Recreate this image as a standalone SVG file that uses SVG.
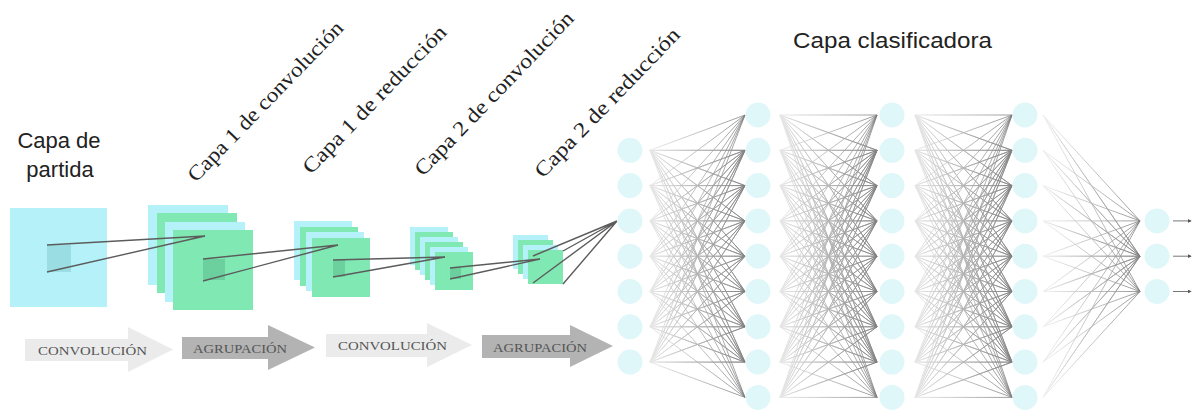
<svg xmlns="http://www.w3.org/2000/svg" width="1194" height="410" viewBox="0 0 1194 410">
  <defs>
    <style>
      .cy { fill: #b4f1f9; }
      .gr { fill: #80e9b3; }
      .cyin { fill: #9adde3; }
      .grin { fill: #6ccf9e; }
      .neuron { fill: #e0f7f9; }
      .proj { stroke: #5c5c5c; stroke-width: 1.4; fill: none; }
      .fc { fill: none; stroke-width: 0.8; stroke-linejoin: round; }
      .out { stroke: #777; stroke-width: 1; fill: none; }
      .title { font-family: "Liberation Sans", Arial, sans-serif; font-size: 22px; fill: #222; }
      .layer { font-family: "Liberation Serif", "Times New Roman", serif; font-size: 21px; fill: #222; }
      .step { font-family: "Liberation Serif", "Times New Roman", serif; font-size: 12px; fill: #555; }
      .light { fill: #ebebeb; }
      .dark { fill: #b3b3b3; }
    </style>
    <linearGradient id="gA" gradientUnits="userSpaceOnUse" x1="650" y1="0" x2="745" y2="0">
      <stop offset="0" stop-color="#e6e6e6"/><stop offset="1" stop-color="#808080"/>
    </linearGradient>
    <linearGradient id="gB" gradientUnits="userSpaceOnUse" x1="780" y1="0" x2="877" y2="0">
      <stop offset="0" stop-color="#e6e6e6"/><stop offset="1" stop-color="#808080"/>
    </linearGradient>
    <linearGradient id="gC" gradientUnits="userSpaceOnUse" x1="915" y1="0" x2="1012" y2="0">
      <stop offset="0" stop-color="#e6e6e6"/><stop offset="1" stop-color="#808080"/>
    </linearGradient>
    <linearGradient id="gD" gradientUnits="userSpaceOnUse" x1="1043" y1="0" x2="1140" y2="0">
      <stop offset="0" stop-color="#eeeeee"/><stop offset="1" stop-color="#808080"/>
    </linearGradient>
    <marker id="tip" viewBox="0 0 6 6" refX="5" refY="3" markerWidth="4" markerHeight="4" orient="auto">
      <path d="M0 0L6 3L0 6z" fill="#555"/>
    </marker>
  </defs>

  <rect width="1194" height="410" fill="#ffffff"/>

  <!-- headings -->
  <g id="label-input">
    <text class="title" x="59" y="148" text-anchor="middle">Capa de</text>
    <text class="title" x="60" y="177" text-anchor="middle">partida</text>
  </g>
  <g id="label-conv1"><text class="layer" transform="translate(196 183) rotate(-46)" textLength="214" lengthAdjust="spacingAndGlyphs">Capa 1 de convolución</text></g>
  <g id="label-pool1"><text class="layer" transform="translate(311 175) rotate(-46)" textLength="197" lengthAdjust="spacingAndGlyphs">Capa 1 de reducción</text></g>
  <g id="label-conv2"><text class="layer" transform="translate(423 177) rotate(-46)" textLength="219" lengthAdjust="spacingAndGlyphs">Capa 2 de convolución</text></g>
  <g id="label-pool2"><text class="layer" transform="translate(543 179) rotate(-46)" textLength="199" lengthAdjust="spacingAndGlyphs">Capa 2 de reducción</text></g>
  <g id="label-classifier"><text class="title" x="793" y="48" textLength="199" lengthAdjust="spacingAndGlyphs">Capa clasificadora</text></g>

  <!-- feature maps -->
  <g id="input-map">
    <rect class="cy" x="10" y="208" width="97" height="99"/>
    <rect class="cyin" x="47" y="245" width="24" height="27"/>
  </g>
  <g id="conv1-maps">
    <rect class="cy" x="148" y="205" width="80" height="80"/>
    <rect class="gr" x="157" y="213" width="80" height="80"/>
    <rect class="cy" x="165" y="222" width="80" height="80"/>
    <rect class="gr" x="173" y="230" width="80" height="80"/>
    <rect class="grin" x="203" y="259" width="22" height="21"/>
  </g>
  <g id="pool1-maps">
    <rect class="cy" x="294" y="221" width="58" height="59"/>
    <rect class="gr" x="300" y="227" width="58" height="59"/>
    <rect class="cy" x="306" y="232" width="58" height="59"/>
    <rect class="gr" x="312" y="238" width="58" height="59"/>
    <rect class="grin" x="333" y="260" width="12" height="17"/>
  </g>
  <g id="conv2-maps">
    <rect class="cy" x="410" y="227" width="38" height="38"/>
    <rect class="gr" x="415" y="232" width="38" height="38"/>
    <rect class="cy" x="420" y="237" width="38" height="38"/>
    <rect class="gr" x="425" y="242" width="38" height="38"/>
    <rect class="cy" x="430" y="247" width="38" height="38"/>
    <rect class="gr" x="435" y="252" width="38" height="38"/>
    <rect class="grin" x="450" y="267" width="11" height="12"/>
  </g>
  <g id="pool2-maps">
    <rect class="cy" x="513" y="235" width="35" height="34"/>
    <rect class="gr" x="518" y="240" width="35" height="34"/>
    <rect class="cy" x="523" y="245" width="35" height="34"/>
    <rect class="gr" x="528" y="250" width="35" height="34"/>
  </g>

  <!-- processing steps -->
  <g id="step-conv1">
    <polygon class="light" points="25,339 128,339 128,327 173,349.5 128,372 128,361 25,361"/>
    <text class="step" x="92.5" y="355" text-anchor="middle" textLength="109" lengthAdjust="spacingAndGlyphs">CONVOLUCIÓN</text>
  </g>
  <g id="step-pool1">
    <polygon class="dark" points="182,337 268,337 268,325 315,347.5 268,370 268,359 182,359"/>
    <text class="step" x="240" y="353" text-anchor="middle" textLength="94" lengthAdjust="spacingAndGlyphs">AGRUPACIÓN</text>
  </g>
  <g id="step-conv2">
    <polygon class="light" points="326,334 427,334 427,323 472,345 427,367 427,357 326,357"/>
    <text class="step" x="392.5" y="350" text-anchor="middle" textLength="109" lengthAdjust="spacingAndGlyphs">CONVOLUCIÓN</text>
  </g>
  <g id="step-pool2">
    <polygon class="dark" points="482,335 570,335 570,325 613,346 570,367 570,358 482,358"/>
    <text class="step" x="540" y="352" text-anchor="middle" textLength="94" lengthAdjust="spacingAndGlyphs">AGRUPACIÓN</text>
  </g>

  <!-- connectors -->
  <g id="connectors">
    <!-- receptive fields between feature maps -->
    <path class="proj" d="M47 245L205 236M47 272L205 236"/>
    <path class="proj" d="M203 259L338 245M203 281L338 245"/>
    <path class="proj" d="M333 260L445 257M333 277L445 257"/>
    <path class="proj" d="M450 268L540 259M450 279L540 259"/>
    <path class="proj" stroke-width="1" d="M533 256L617 221M533 283L617 221M563 251L617 221M563 284L617 221"/>

    <!-- dense layer 1 -->
    <g class="fc" stroke="url(#gA)">
      <path d="M745 115L650 150.3 745 150.3 650 150.3 745 185.6 650 150.3 745 220.9 650 150.3 745 256.2 650 150.3 745 291.5 650 150.3 745 326.8 650 150.3 745 362.1 650 150.3 745 397.4"/>
      <path d="M745 115L650 185.6 745 150.3 650 185.6 745 185.6 650 185.6 745 220.9 650 185.6 745 256.2 650 185.6 745 291.5 650 185.6 745 326.8 650 185.6 745 362.1 650 185.6 745 397.4"/>
      <path d="M745 115L650 220.9 745 150.3 650 220.9 745 185.6 650 220.9 745 220.9 650 220.9 745 256.2 650 220.9 745 291.5 650 220.9 745 326.8 650 220.9 745 362.1 650 220.9 745 397.4"/>
      <path d="M745 115L650 256.2 745 150.3 650 256.2 745 185.6 650 256.2 745 220.9 650 256.2 745 256.2 650 256.2 745 291.5 650 256.2 745 326.8 650 256.2 745 362.1 650 256.2 745 397.4"/>
      <path d="M745 115L650 291.5 745 150.3 650 291.5 745 185.6 650 291.5 745 220.9 650 291.5 745 256.2 650 291.5 745 291.5 650 291.5 745 326.8 650 291.5 745 362.1 650 291.5 745 397.4"/>
      <path d="M745 115L650 326.8 745 150.3 650 326.8 745 185.6 650 326.8 745 220.9 650 326.8 745 256.2 650 326.8 745 291.5 650 326.8 745 326.8 650 326.8 745 362.1 650 326.8 745 397.4"/>
      <path d="M745 115L650 362.1 745 150.3 650 362.1 745 185.6 650 362.1 745 220.9 650 362.1 745 256.2 650 362.1 745 291.5 650 362.1 745 326.8 650 362.1 745 362.1 650 362.1 745 397.4"/>
    </g>
    <!-- dense layer 2 -->
    <g class="fc" stroke="url(#gB)">
      <path d="M877 115L780 115 877 150.3 780 115 877 185.6 780 115 877 220.9 780 115 877 256.2 780 115 877 291.5 780 115 877 326.8 780 115 877 362.1 780 115 877 397.4"/>
      <path d="M877 115L780 150.3 877 150.3 780 150.3 877 185.6 780 150.3 877 220.9 780 150.3 877 256.2 780 150.3 877 291.5 780 150.3 877 326.8 780 150.3 877 362.1 780 150.3 877 397.4"/>
      <path d="M877 115L780 185.6 877 150.3 780 185.6 877 185.6 780 185.6 877 220.9 780 185.6 877 256.2 780 185.6 877 291.5 780 185.6 877 326.8 780 185.6 877 362.1 780 185.6 877 397.4"/>
      <path d="M877 115L780 220.9 877 150.3 780 220.9 877 185.6 780 220.9 877 220.9 780 220.9 877 256.2 780 220.9 877 291.5 780 220.9 877 326.8 780 220.9 877 362.1 780 220.9 877 397.4"/>
      <path d="M877 115L780 256.2 877 150.3 780 256.2 877 185.6 780 256.2 877 220.9 780 256.2 877 256.2 780 256.2 877 291.5 780 256.2 877 326.8 780 256.2 877 362.1 780 256.2 877 397.4"/>
      <path d="M877 115L780 291.5 877 150.3 780 291.5 877 185.6 780 291.5 877 220.9 780 291.5 877 256.2 780 291.5 877 291.5 780 291.5 877 326.8 780 291.5 877 362.1 780 291.5 877 397.4"/>
      <path d="M877 115L780 326.8 877 150.3 780 326.8 877 185.6 780 326.8 877 220.9 780 326.8 877 256.2 780 326.8 877 291.5 780 326.8 877 326.8 780 326.8 877 362.1 780 326.8 877 397.4"/>
      <path d="M877 115L780 362.1 877 150.3 780 362.1 877 185.6 780 362.1 877 220.9 780 362.1 877 256.2 780 362.1 877 291.5 780 362.1 877 326.8 780 362.1 877 362.1 780 362.1 877 397.4"/>
      <path d="M877 115L780 397.4 877 150.3 780 397.4 877 185.6 780 397.4 877 220.9 780 397.4 877 256.2 780 397.4 877 291.5 780 397.4 877 326.8 780 397.4 877 362.1 780 397.4 877 397.4"/>
    </g>
    <!-- dense layer 3 -->
    <g class="fc" stroke="url(#gC)">
      <path d="M1012 115L915 115 1012 150.3 915 115 1012 185.6 915 115 1012 220.9 915 115 1012 256.2 915 115 1012 291.5 915 115 1012 326.8 915 115 1012 362.1 915 115 1012 397.4"/>
      <path d="M1012 115L915 150.3 1012 150.3 915 150.3 1012 185.6 915 150.3 1012 220.9 915 150.3 1012 256.2 915 150.3 1012 291.5 915 150.3 1012 326.8 915 150.3 1012 362.1 915 150.3 1012 397.4"/>
      <path d="M1012 115L915 185.6 1012 150.3 915 185.6 1012 185.6 915 185.6 1012 220.9 915 185.6 1012 256.2 915 185.6 1012 291.5 915 185.6 1012 326.8 915 185.6 1012 362.1 915 185.6 1012 397.4"/>
      <path d="M1012 115L915 220.9 1012 150.3 915 220.9 1012 185.6 915 220.9 1012 220.9 915 220.9 1012 256.2 915 220.9 1012 291.5 915 220.9 1012 326.8 915 220.9 1012 362.1 915 220.9 1012 397.4"/>
      <path d="M1012 115L915 256.2 1012 150.3 915 256.2 1012 185.6 915 256.2 1012 220.9 915 256.2 1012 256.2 915 256.2 1012 291.5 915 256.2 1012 326.8 915 256.2 1012 362.1 915 256.2 1012 397.4"/>
      <path d="M1012 115L915 291.5 1012 150.3 915 291.5 1012 185.6 915 291.5 1012 220.9 915 291.5 1012 256.2 915 291.5 1012 291.5 915 291.5 1012 326.8 915 291.5 1012 362.1 915 291.5 1012 397.4"/>
      <path d="M1012 115L915 326.8 1012 150.3 915 326.8 1012 185.6 915 326.8 1012 220.9 915 326.8 1012 256.2 915 326.8 1012 291.5 915 326.8 1012 326.8 915 326.8 1012 362.1 915 326.8 1012 397.4"/>
      <path d="M1012 115L915 362.1 1012 150.3 915 362.1 1012 185.6 915 362.1 1012 220.9 915 362.1 1012 256.2 915 362.1 1012 291.5 915 362.1 1012 326.8 915 362.1 1012 362.1 915 362.1 1012 397.4"/>
      <path d="M1012 115L915 397.4 1012 150.3 915 397.4 1012 185.6 915 397.4 1012 220.9 915 397.4 1012 256.2 915 397.4 1012 291.5 915 397.4 1012 326.8 915 397.4 1012 362.1 915 397.4 1012 397.4"/>
    </g>
    <!-- output layer -->
    <g class="fc" stroke="url(#gD)">
      <path d="M1140 220.9L1043 115 1140 256.2 1043 115 1140 291.5"/>
      <path d="M1140 220.9L1043 150.3 1140 256.2 1043 150.3 1140 291.5"/>
      <path d="M1140 220.9L1043 185.6 1140 256.2 1043 185.6 1140 291.5"/>
      <path d="M1140 220.9L1043 220.9 1140 256.2 1043 220.9 1140 291.5"/>
      <path d="M1140 220.9L1043 256.2 1140 256.2 1043 256.2 1140 291.5"/>
      <path d="M1140 220.9L1043 291.5 1140 256.2 1043 291.5 1140 291.5"/>
      <path d="M1140 220.9L1043 326.8 1140 256.2 1043 326.8 1140 291.5"/>
      <path d="M1140 220.9L1043 362.1 1140 256.2 1043 362.1 1140 291.5"/>
      <path d="M1140 220.9L1043 397.4 1140 256.2 1043 397.4 1140 291.5"/>
    </g>
    <!-- outputs -->
    <path class="out" marker-end="url(#tip)" d="M1173 220.9H1191"/>
    <path class="out" marker-end="url(#tip)" d="M1173 256.2H1191"/>
    <path class="out" marker-end="url(#tip)" d="M1173 291.5H1191"/>
  </g>

  <!-- neurons -->
  <g id="fc-in">
    <g id="n0-1"><circle class="neuron" cx="630" cy="150.3" r="12.5"/></g>
    <g id="n0-2"><circle class="neuron" cx="630" cy="185.6" r="12.5"/></g>
    <g id="n0-3"><circle class="neuron" cx="630" cy="220.9" r="12.5"/></g>
    <g id="n0-4"><circle class="neuron" cx="630" cy="256.2" r="12.5"/></g>
    <g id="n0-5"><circle class="neuron" cx="630" cy="291.5" r="12.5"/></g>
    <g id="n0-6"><circle class="neuron" cx="630" cy="326.8" r="12.5"/></g>
    <g id="n0-7"><circle class="neuron" cx="630" cy="362.1" r="12.5"/></g>
  </g>
  <g id="fc-h1">
    <g id="n1-0"><circle class="neuron" cx="758" cy="115" r="12.5"/></g>
    <g id="n1-1"><circle class="neuron" cx="758" cy="150.3" r="12.5"/></g>
    <g id="n1-2"><circle class="neuron" cx="758" cy="185.6" r="12.5"/></g>
    <g id="n1-3"><circle class="neuron" cx="758" cy="220.9" r="12.5"/></g>
    <g id="n1-4"><circle class="neuron" cx="758" cy="256.2" r="12.5"/></g>
    <g id="n1-5"><circle class="neuron" cx="758" cy="291.5" r="12.5"/></g>
    <g id="n1-6"><circle class="neuron" cx="758" cy="326.8" r="12.5"/></g>
    <g id="n1-7"><circle class="neuron" cx="758" cy="362.1" r="12.5"/></g>
    <g id="n1-8"><circle class="neuron" cx="758" cy="397.4" r="12.5"/></g>
  </g>
  <g id="fc-h2">
    <g id="n2-0"><circle class="neuron" cx="892" cy="115" r="12.5"/></g>
    <g id="n2-1"><circle class="neuron" cx="892" cy="150.3" r="12.5"/></g>
    <g id="n2-2"><circle class="neuron" cx="892" cy="185.6" r="12.5"/></g>
    <g id="n2-3"><circle class="neuron" cx="892" cy="220.9" r="12.5"/></g>
    <g id="n2-4"><circle class="neuron" cx="892" cy="256.2" r="12.5"/></g>
    <g id="n2-5"><circle class="neuron" cx="892" cy="291.5" r="12.5"/></g>
    <g id="n2-6"><circle class="neuron" cx="892" cy="326.8" r="12.5"/></g>
    <g id="n2-7"><circle class="neuron" cx="892" cy="362.1" r="12.5"/></g>
    <g id="n2-8"><circle class="neuron" cx="892" cy="397.4" r="12.5"/></g>
  </g>
  <g id="fc-h3">
    <g id="n3-0"><circle class="neuron" cx="1025" cy="115" r="12.5"/></g>
    <g id="n3-1"><circle class="neuron" cx="1025" cy="150.3" r="12.5"/></g>
    <g id="n3-2"><circle class="neuron" cx="1025" cy="185.6" r="12.5"/></g>
    <g id="n3-3"><circle class="neuron" cx="1025" cy="220.9" r="12.5"/></g>
    <g id="n3-4"><circle class="neuron" cx="1025" cy="256.2" r="12.5"/></g>
    <g id="n3-5"><circle class="neuron" cx="1025" cy="291.5" r="12.5"/></g>
    <g id="n3-6"><circle class="neuron" cx="1025" cy="326.8" r="12.5"/></g>
    <g id="n3-7"><circle class="neuron" cx="1025" cy="362.1" r="12.5"/></g>
    <g id="n3-8"><circle class="neuron" cx="1025" cy="397.4" r="12.5"/></g>
  </g>
  <g id="fc-out">
    <g id="n4-0"><circle class="neuron" cx="1157" cy="220.9" r="12.5"/></g>
    <g id="n4-1"><circle class="neuron" cx="1157" cy="256.2" r="12.5"/></g>
    <g id="n4-2"><circle class="neuron" cx="1157" cy="291.5" r="12.5"/></g>
  </g>
</svg>
